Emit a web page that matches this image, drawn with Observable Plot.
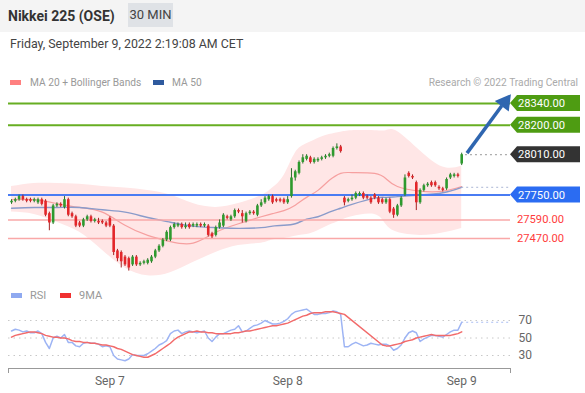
<!DOCTYPE html>
<html><head><meta charset="utf-8">
<script src="https://cdn.jsdelivr.net/npm/d3@7"></script>
<script src="https://cdn.jsdelivr.net/npm/@observablehq/plot@0.6"></script>
<style>
body{margin:0;background:#fff;font-family:Roboto,"Liberation Sans",Arial,sans-serif;}
#wrap{position:relative;width:585px;height:393px;overflow:hidden;background:#fff;}
.abs{position:absolute;white-space:nowrap;}
.sw{position:absolute;width:11px;height:5px;}
.lg{position:absolute;font-size:10.2px;color:#999;line-height:14px;}
svg{overflow:visible;}
</style></head><body>
<div id="wrap">
  <div class="abs" style="left:0;top:0;width:585px;height:32px;background:#f4f4f4"></div>
  <div class="abs" style="left:8px;top:7px;font-weight:bold;font-size:14px;color:#333;line-height:18px">Nikkei 225 (OSE)</div>
  <div class="abs" style="left:128px;top:3px;width:45px;height:24px;background:#dfe2e6;color:#444;font-size:13px;line-height:24px;text-align:center">30 MIN</div>
  <div class="abs" style="left:10px;top:36px;font-size:12.4px;color:#444;line-height:16px">Friday, September 9, 2022 2:19:08 AM CET</div>

  <div class="sw" style="left:10px;top:80px;background:#ff8080"></div>
  <div class="lg" style="left:30px;top:76px">MA 20 + Bollinger Bands</div>
  <div class="sw" style="left:153px;top:80px;background:#2f5a9e"></div>
  <div class="lg" style="left:172px;top:76px">MA 50</div>
  <div class="lg" style="right:7px;top:76px;color:#aaa">Research © 2022 Trading Central</div>

  <div id="main" class="abs" style="left:0;top:90px"></div>

  <div class="sw" style="left:11px;top:293px;background:#8fa9f0"></div>
  <div class="lg" style="left:30px;top:289px;font-size:11px">RSI</div>
  <div class="sw" style="left:60px;top:293px;background:#f03030"></div>
  <div class="lg" style="left:79px;top:289px;font-size:11px">9MA</div>
  <div id="rsi" class="abs" style="left:0;top:290px"></div>
</div>
<script>
// ---- candles (30 min) ----
const open = [27700,27710,27720,27740,27720,27720,27710,27700,27720,27710,27630,27570,27680,27690,27670,27720,27630,27610,27570,27550,27590,27610,27580,27580,27580,27570,27600,27550,27390,27380,27350,27340,27300,27350,27300,27310,27310,27320,27350,27390,27420,27460,27460,27540,27550,27560,27540,27560,27550,27550,27560,27550,27550,27500,27490,27540,27550,27610,27590,27610,27650,27630,27580,27630,27640,27620,27680,27700,27720,27740,27720,27720,27720,27700,27740,27860,27890,27960,27980,27990,27960,27970,27980,27990,28000,28000,28050,28060,27730,27710,27720,27730,27750,27760,27740,27730,27750,27730,27720,27700,27720,27660,27620,27680,27750,27890,27870,27830,27700,27780,27810,27830,27830,27800,27790,27790,27860,27870,27880,27950];
const high = [27720,27730,27750,27750,27730,27730,27730,27730,27730,27720,27640,27690,27700,27700,27740,27730,27640,27620,27580,27600,27620,27620,27600,27600,27590,27580,27610,27560,27400,27390,27360,27350,27360,27360,27320,27330,27340,27360,27400,27430,27470,27520,27550,27570,27570,27570,27570,27570,27570,27570,27570,27570,27560,27510,27550,27590,27630,27620,27620,27660,27660,27650,27640,27650,27650,27690,27720,27740,27750,27750,27730,27730,27730,27740,27920,27910,27970,28010,28010,28000,27990,27990,28000,28010,28020,28060,28080,28070,27740,27730,27750,27770,27770,27770,27750,27740,27760,27740,27730,27730,27730,27670,27690,27740,27880,27900,27880,27840,27790,27820,27830,27840,27840,27810,27800,27860,27890,27890,27890,28020];
const low = [27690,27700,27710,27710,27700,27700,27700,27690,27680,27610,27520,27560,27670,27670,27660,27610,27600,27540,27540,27540,27580,27570,27570,27560,27560,27540,27540,27360,27320,27280,27290,27260,27290,27290,27290,27300,27300,27310,27340,27380,27410,27450,27450,27530,27540,27530,27530,27530,27540,27540,27540,27540,27480,27470,27480,27530,27540,27590,27580,27600,27630,27570,27570,27620,27620,27610,27670,27690,27710,27690,27700,27700,27690,27690,27730,27840,27880,27950,27970,27950,27950,27960,27970,27980,27990,27990,28040,28020,27680,27700,27710,27720,27740,27720,27720,27690,27720,27690,27690,27690,27630,27600,27610,27670,27740,27860,27850,27650,27690,27770,27800,27800,27800,27780,27770,27780,27850,27860,27860,27940];
const close = [27710,27720,27740,27720,27710,27710,27720,27720,27690,27620,27570,27680,27690,27680,27720,27620,27610,27550,27550,27590,27610,27580,27590,27570,27570,27550,27550,27380,27340,27320,27300,27280,27350,27300,27310,27320,27330,27350,27390,27420,27460,27510,27540,27560,27560,27540,27550,27540,27560,27560,27550,27560,27490,27480,27540,27570,27620,27600,27610,27650,27640,27610,27630,27640,27630,27680,27700,27730,27740,27700,27710,27710,27700,27720,27860,27900,27960,27990,28000,27960,27980,27980,27990,28000,28010,28050,28060,28030,27700,27720,27730,27760,27760,27730,27730,27700,27730,27700,27700,27720,27640,27620,27680,27730,27860,27870,27860,27700,27780,27810,27820,27810,27810,27790,27780,27850,27880,27880,27870,28010];

// ---- MA 20 / Bollinger Bands / MA 50 (read at candle indices) ----
const bandIdx = [0,6,12,18,24,30,36,42,48,54,60,66,69,72,75,78,81,84,87,90,96,99,102,108,114,119];
const bandUpper = [27805,27825,27825,27820,27805,27795,27780,27750,27695,27670,27695,27745,27795,27875,28020,28080,28115,28140,28155,28165,28165,28165,28160,28035,27930,27935];
const bandLower = [27640,27625,27575,27510,27395,27280,27230,27250,27315,27380,27425,27440,27460,27470,27485,27495,27520,27555,27585,27610,27625,27560,27510,27490,27505,27535];
const ma20 = [27720,27720,27695,27670,27640,27555,27490,27450,27440,27510,27565,27610,27630,27650,27685,27735,27780,27845,27890,27895,27890,27855,27805,27775,27775,27805];
const ma50 = [27665,27670,27670,27670,27655,27640,27605,27575,27550,27540,27535,27540,27550,27555,27565,27595,27610,27640,27665,27690,27730,27735,27740,27750,27765,27800];

// ---- key levels ----
const levelPrice = [28340, 28200, 28010, 27750, 27590, 27470];
const levelKind  = ["resistance","resistance","last","pivot","support","support"];
const forecast = [{fromIdx:120.4, fromPrice:28020, toIdx:129.6, toPrice:28325, tipIdx:130.4, tipPrice:28348}];

// ---- RSI and its 9-period MA ----
const rsi = [58,60,59,57,58,56,56,58,55,45, 38,50,52,50,54,45,45,41,40,44, 45,44,44,43,40,41,40,30,26,25, 24,26,31,30,30,30,32,35,38,42, 44,47,55,58,59,55,57,58,57,56, 57,58,50,46,51,55,55,57,59,60, 64,57,58,61,64,65,67,70,68,66, 66,67,69,72,77,80,81,82,83,80, 77,77,78,78,79,81,80,77,40,40, 43,45,43,41,42,44,43,42,43,43, 41,36,38,42,50,56,58,56,46,49, 51,53,53,52,51,54,57,59,59,68];
const rsiMA = [51,53,54,55,56,57,57,56,55,53, 52,51,51,50,50,49,47,46,46,45, 45,44,44,43,42,42,41,40,38,37, 35,33,31,30,29,28,28,30,32,35, 38,41,44,48,51,53,55,57,57,58, 57,57,56,56,55,55,55,55,55,56, 56,57,58,58,59,60,61,62,63,64, 64,65,66,67,69,71,73,75,76,78, 79,79,79,80,80,80,79,78,77,null, null,null,null,null,null,null,null,null,42,41, 41,42,43,44,46,47,48,50,51,52, 53,54,53,53,53,53,53,54,55,57];
const rsiLevels = [30, 50, 70];

// ---- time axis ----
const dateTickIdx = [26, 73, 119];
const dateLabels = ["Sep 7", "Sep 8", "Sep 9"];

// ---------------------------------------------------------------
const candles = close.map((c, i) => ({i, o: open[i], h: high[i], l: low[i], c}));
const bands = bandIdx.map((i, k) => ({i, upper: bandUpper[k], lower: bandLower[k], ma20: ma20[k], ma50: ma50[k]}));
const levels = levelPrice.map((p, k) => ({price: p, kind: levelKind[k]}));
const lastIdx = close.length - 1;
const xDom = [-0.8, 131.9];
const GREEN = "#2e9a2e", RED = "#e3262a";
const lineColor = {resistance: "#67ae22", pivot: "#4a7cf3", support: "#f9a8a8"};
const lineWidth = {resistance: 2, pivot: 2, support: 1.5};
const boxColor = {resistance: "#4e9c12", last: "#333333", pivot: "#2b6cf2"};

function levelLabels(index, scales, values, dims) {
  const g = d3.create("svg:g").attr("font-size", 11.2)
    .attr("font-family", "Roboto, Arial, sans-serif").attr("text-anchor", "start");
  const x0 = dims.width - dims.marginRight;
  for (const L of levels) {
    const y = scales.y(L.price);
    if (boxColor[L.kind]) {
      g.append("path")
        .attr("d", `M${x0},${y} L${x0 + 7},${y - 8} H${x0 + 70} V${y + 8} H${x0 + 7} Z`)
        .attr("fill", boxColor[L.kind]);
      g.append("text").attr("x", x0 + 8).attr("y", y).attr("dy", "0.36em")
        .attr("text-anchor", "start").attr("fill", "#fff").text(L.price.toFixed(2));
    } else {
      g.append("text").attr("x", x0 + 7).attr("y", y).attr("dy", "0.36em")
        .attr("text-anchor", "start").attr("fill", "#ff3b3b").text(L.price.toFixed(2));
    }
  }
  return g.node();
}

const main = Plot.plot({
  width: 585, height: 200,
  marginLeft: 8, marginRight: 75, marginTop: 0, marginBottom: 0,
  style: {fontFamily: "Roboto, Arial, sans-serif", background: "transparent"},
  x: {domain: xDom, axis: null},
  y: {domain: [27470, 28340], range: [148, 13], axis: null},
  marks: [
    Plot.areaY(bands, {x: "i", y1: "lower", y2: "upper", fill: "#ffe6e6", curve: "natural"}),
    Plot.lineY(bands, {x: "i", y: "ma20", stroke: "#f6a0a0", strokeWidth: 1.2, curve: "natural"}),
    Plot.lineY(bands, {x: "i", y: "ma50", stroke: "#8a9bca", strokeWidth: 1.4, curve: "natural"}),
    Plot.ruleY(levels.filter(d => d.kind !== "last"), {y: "price", stroke: d => lineColor[d.kind], strokeWidth: d => lineWidth[d.kind]}),
    Plot.ruleY(levels.filter(d => d.kind === "last"), {y: "price", x1: lastIdx + 1, x2: xDom[1], stroke: "#999", strokeDasharray: "2,3"}),
    Plot.ruleY([ma50[ma50.length - 1]], {y: d => d, x1: lastIdx, x2: xDom[1], stroke: "#aab6d4", strokeDasharray: "2,3"}),
    Plot.ruleX(candles, {x: "i", y1: "l", y2: "h", stroke: d => d.c >= d.o ? "#2a6e2a" : "#a52020", strokeWidth: 1}),
    Plot.ruleX(candles, {x: "i", y1: "o", y2: "c", stroke: d => d.c >= d.o ? GREEN : RED, strokeWidth: 2.6}),
    Plot.link(forecast, {x1: "fromIdx", y1: "fromPrice", x2: "toIdx", y2: "toPrice", stroke: "#2f66b0", strokeWidth: 3.5}),
    Plot.dot(forecast, {x: "tipIdx", y: "tipPrice", symbol: "triangle", r: 6.5, fill: "#2f66b0", rotate: 37}),
    levelLabels
  ]
});
document.getElementById("main").appendChild(main);

const rsiData = rsi.map((v, i) => ({i, v}));
const maData = rsiMA.map((v, i) => ({i, v})).filter(d => d.v != null);
const tickMap = new Map(dateTickIdx.map((d, k) => [d, dateLabels[k]]));

const rsiPlot = Plot.plot({
  width: 585, height: 103,
  marginLeft: 8, marginRight: 75, marginTop: 0, marginBottom: 25,
  style: {fontFamily: "Roboto, Arial, sans-serif", color: "#666", fontSize: "12px", background: "transparent"},
  x: {domain: xDom, label: null},
  y: {domain: [30, 70], range: [65, 30], axis: null},
  marks: [
    Plot.ruleY(rsiLevels, {y: d => d, stroke: "#c8c8c8", strokeDasharray: "1.5,4"}),
    Plot.lineY(rsiData, {x: "i", y: "v", stroke: "#9db4f4", strokeWidth: 1.5}),
    Plot.lineY(maData, {x: "i", y: "v", stroke: "#f26a6a", strokeWidth: 1.5}),
    Plot.ruleY([rsi[lastIdx]], {y: d => d, x1: lastIdx, x2: xDom[1], stroke: "#a9bdf3", strokeDasharray: "2,3"}),
    Plot.text(rsiLevels, {y: d => d, text: d => String(d), frameAnchor: "right", dx: 8, textAnchor: "start", fill: "#666", fontSize: 12}),
    Plot.frame({anchor: "bottom", stroke: "#999"}),
    Plot.axisX({ticks: xDom, tickSize: 5, tickFormat: () => "", stroke: "#999", label: null}),
    Plot.axisX({ticks: dateTickIdx, tickSize: 0, tickPadding: 8, tickFormat: d => tickMap.get(d), fontSize: 12, fill: "#666", label: null})
  ]
});
document.getElementById("rsi").appendChild(rsiPlot);
</script>
</body></html>
